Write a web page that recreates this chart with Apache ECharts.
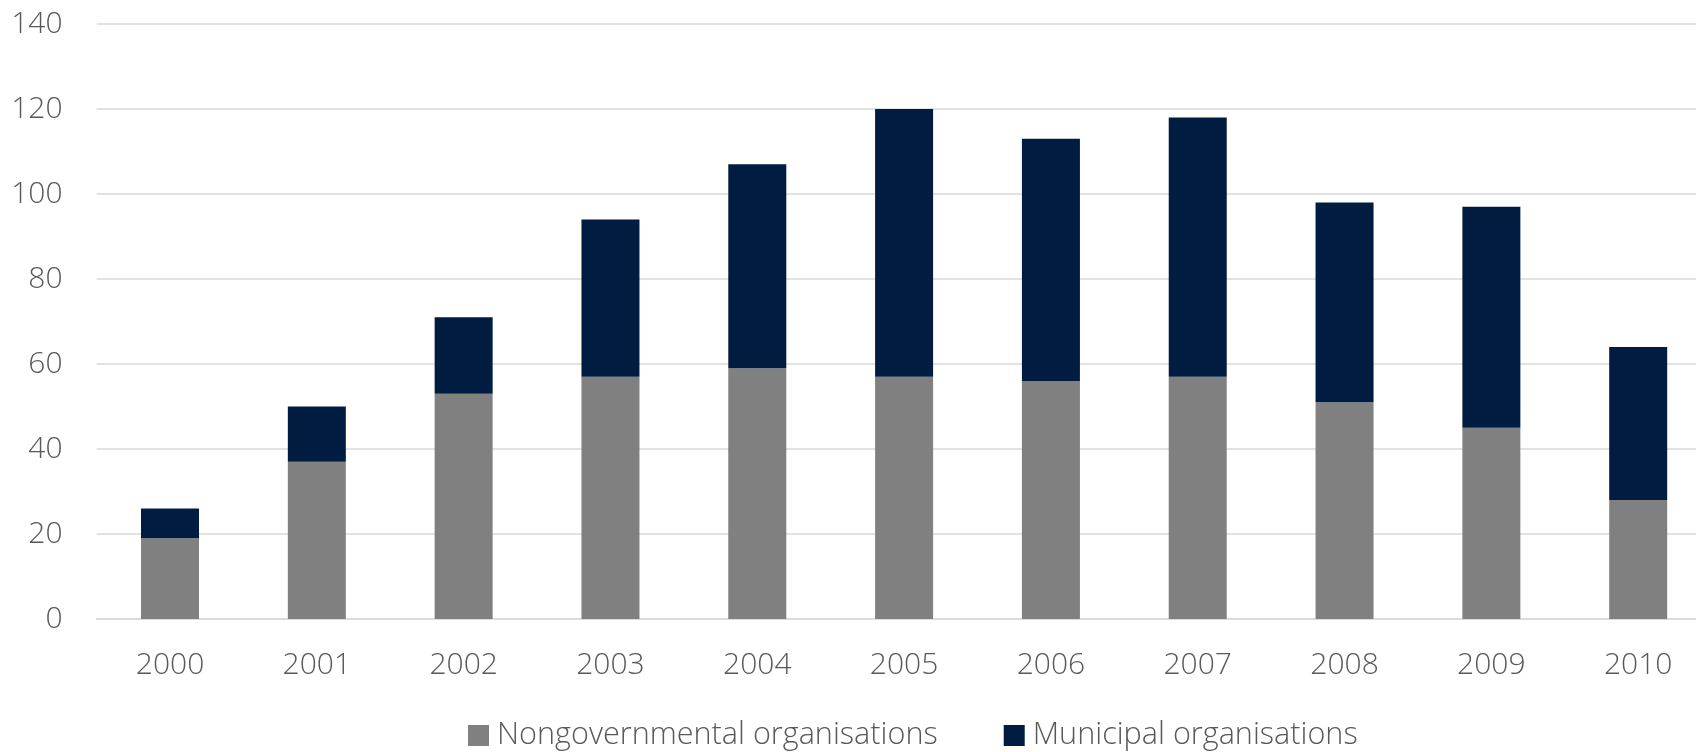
<!DOCTYPE html>
<html>
<head>
<meta charset="utf-8">
<script src="https://cdn.jsdelivr.net/npm/echarts@6/dist/echarts.min.js"></script>
<style>html,body{margin:0;padding:0;background:#fff;overflow:hidden;width:1696px;height:752px;}#chart{width:1712px;height:752px;}</style>
</head>
<body>
<div id="chart"></div>
<script>
var categories = ['2000','2001','2002','2003','2004','2005','2006','2007','2008','2009','2010'];
var ngoValues = [19, 37, 53, 57, 59, 57, 56, 57, 51, 45, 28];
var municipalValues = [7, 13, 18, 37, 48, 63, 57, 61, 47, 52, 36];
var seriesNames = ['Nongovernmental organisations', 'Municipal organisations'];

var font = 'Open Sans';
var chart = echarts.init(document.getElementById('chart'));
chart.setOption({
  animation: false,
  backgroundColor: '#ffffff',
  grid: { left: 96.6, width: 1615, top: 24, height: 595, containLabel: false },
  legend: {
    top: 715,
    left: 463,
    itemWidth: 21, itemHeight: 21, itemGap: 66,
    icon: 'rect',
    textStyle: { fontFamily: font, fontSize: 30.6, fontWeight: 300, color: '#595959', padding: [0,0,0,3] },
    data: seriesNames
  },
  xAxis: {
    type: 'category',
    data: categories,
    axisLine: { lineStyle: { color: '#d9d9d9', width: 1.5 } },
    axisTick: { show: false },
    axisLabel: { fontFamily: font, fontSize: 30, fontWeight: 300, color: '#595959', margin: 31 }
  },
  yAxis: {
    type: 'value', min: 0, max: 140, interval: 20,
    axisLine: { show: false }, axisTick: { show: false },
    splitLine: { lineStyle: { color: '#d9d9d9', width: 1.5 } },
    axisLabel: { fontFamily: font, fontSize: 30, fontWeight: 300, color: '#595959', margin: 34 }
  },
  series: [
    { name: seriesNames[0], type: 'bar', stack: 't', data: ngoValues, barWidth: 58, itemStyle: { color: '#808080' } },
    { name: seriesNames[1], type: 'bar', stack: 't', data: municipalValues, barWidth: 58, itemStyle: { color: '#001c40' } }
  ]
});
</script>
</body>
</html>
